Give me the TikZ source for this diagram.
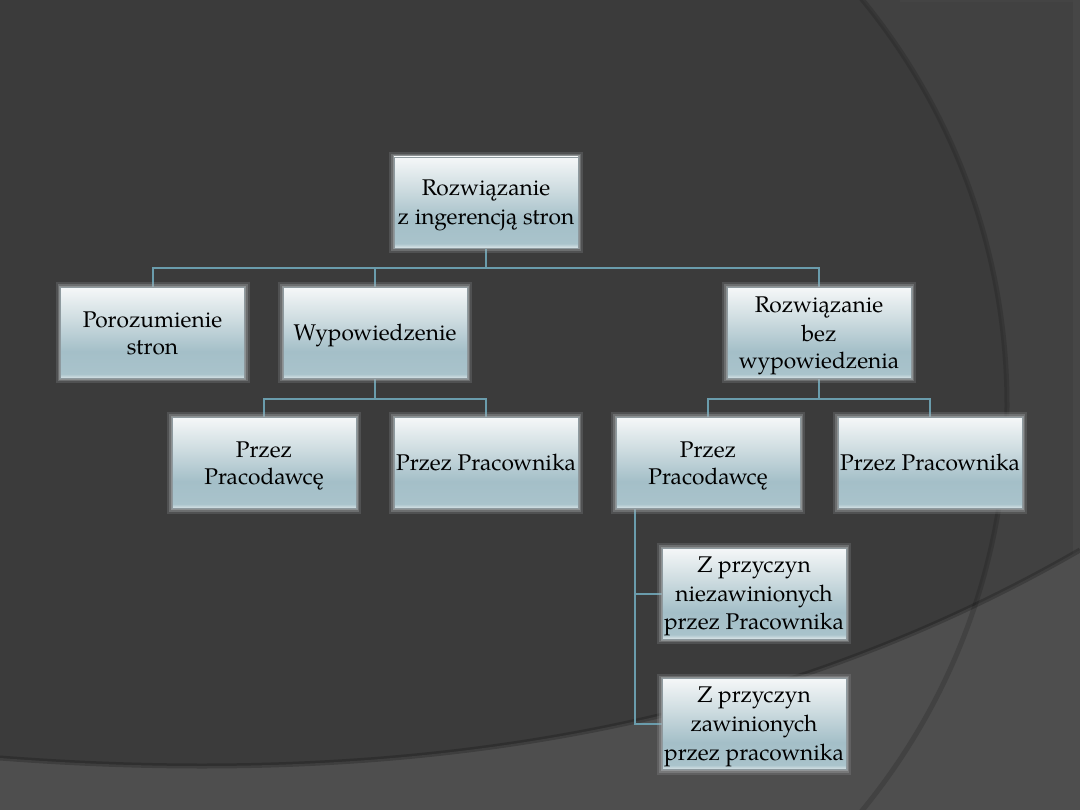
\documentclass[tikz,border=0pt]{standalone}
\usepackage{fontspec}
\setmainfont{TeX Gyre Pagella}
\usetikzlibrary{calc}
\definecolor{bgmain}{HTML}{3B3B3B}
\definecolor{bgright}{HTML}{414141}
\definecolor{bgbottom}{HTML}{4E4E4E}
\definecolor{linkc}{HTML}{6A9CAC}
\definecolor{boxedge}{HTML}{8E9A9F}
\definecolor{glowc}{HTML}{A8ACAE}
\definecolor{s1}{HTML}{F5F7F8}
\definecolor{s2}{HTML}{CFDDE1}
\definecolor{s3}{HTML}{A4BFC8}
\definecolor{s4}{HTML}{A9C3CB}
\definecolor{sB}{HTML}{DCE6E9}
\pgfdeclareverticalshading{boxshade}{100bp}{color(0bp)=(sB); color(25bp)=(sB); color(27.5bp)=(s4); color(40bp)=(s3); color(58bp)=(s2); color(75bp)=(s1); color(100bp)=(s1)}
\pgfdeclarelayer{bg}
\pgfdeclarelayer{lines}
\pgfsetlayers{bg,lines,main}
\newcommand{\ls}{\rule[-5.5pt]{0pt}{27pt}}
\tikzset{
  box/.style={shading=boxshade, draw=boxedge, line width=0.9pt,
    minimum width=184pt, minimum height=91pt, inner sep=1pt,
    align=center, font=\fontsize{22.7}{27}\selectfont, text=black,
    preaction={draw=glowc, line width=10pt, opacity=0.2},
    preaction={draw=glowc, line width=6pt, opacity=0.32},
    preaction={draw=glowc, line width=3pt, opacity=0.55}},
  link/.style={draw=linkc, line width=2pt}
}
\begin{document}
\begin{tikzpicture}[x=1pt,y=-1pt]
\useasboundingbox (0,0) rectangle (1080,810);
\begin{pgfonlayer}{bg}
  \fill[bgright] (0,0) rectangle (1080,810);
  \begin{scope}
    \clip (0,0) rectangle (1080,810);
    \fill[bgmain] (367,405) circle (640);
    \fill[white, opacity=0.03] (1073,0) rectangle (1080,810);
    \fill[white, opacity=0.02] (900,0) rectangle (1073,2);
    \fill[bgbottom] (0,758) .. controls (480,795) and (820,700) .. (1080,550) -- (1080,810) -- (0,810) -- cycle;
    \draw[black, opacity=0.15, line width=5pt] (367,405) circle (640);
    \draw[black, opacity=0.2, line width=5pt] (0,758) .. controls (480,795) and (820,700) .. (1080,550);
  \end{scope}
\end{pgfonlayer}

\node[box] (r) at (486,202.5) {\ls Rozwiązanie\\\ls z ingerencją stron};
\node[box] (a) at (152.5,333) {\ls Porozumienie\\\ls stron};
\node[box] (b) at (375,333) {\ls Wypowiedzenie};
\node[box] (c) at (819,333) {\ls Rozwiązanie\\\ls bez\\\ls wypowiedzenia};
\node[box] (d) at (264,463) {\ls Przez\\\ls Pracodawcę};
\node[box] (e) at (486,463) {\ls Przez Pracownika};
\node[box] (g) at (708,463) {\ls Przez\\\ls Pracodawcę};
\node[box] (h) at (930,463) {\ls Przez Pracownika};
\node[box] (i) at (754,593.5) {\ls Z przyczyn\\\ls niezawinionych\\\ls przez Pracownika};
\node[box] (k) at (754,724) {\ls Z przyczyn\\\ls zawinionych\\\ls przez pracownika};

\begin{pgfonlayer}{lines}
  \coordinate (j1) at ($(r.south)+(0,20)$);
  \draw[link] (r.south) -- (j1);
  \draw[link] (j1) -| (a.north);
  \draw[link] (j1) -| (b.north);
  \draw[link] (j1) -| (c.north);
  \coordinate (j2) at ($(b.south)+(0,20)$);
  \draw[link] (b.south) -- (j2);
  \draw[link] (j2) -| (d.north);
  \draw[link] (j2) -| (e.north);
  \coordinate (j3) at ($(c.south)+(0,20)$);
  \draw[link] (c.south) -- (j3);
  \draw[link] (j3) -| (g.north);
  \draw[link] (j3) -| (h.north);
  \coordinate (j4) at ($(g.south west)+(19,0)$);
  \draw[link] (j4) |- (i.west);
  \draw[link] (j4) |- (k.west);
\end{pgfonlayer}
\end{tikzpicture}
\end{document}
